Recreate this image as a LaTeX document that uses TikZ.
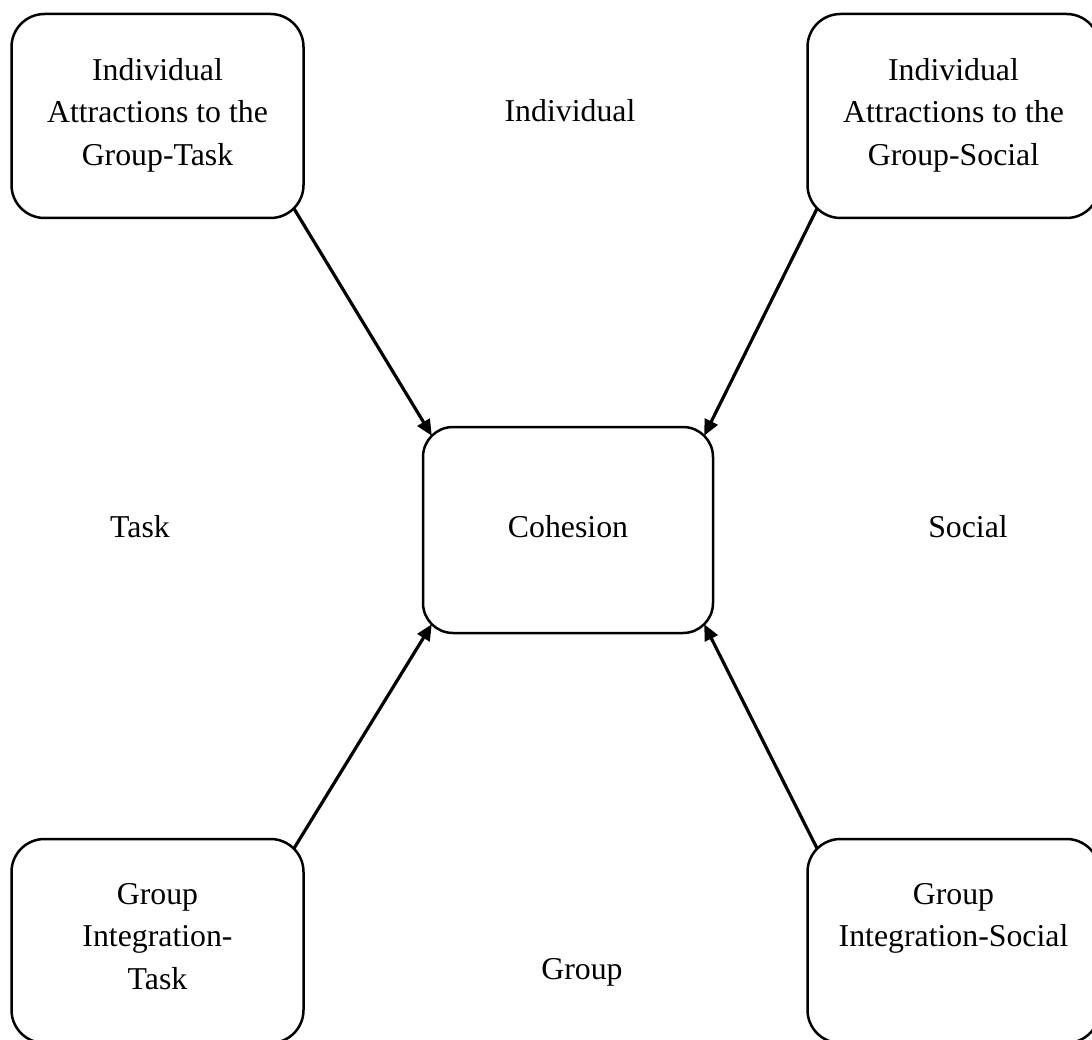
\documentclass[tikz,border=0pt]{standalone}
\usepackage{fontspec}
\setmainfont{Liberation Serif}
\usetikzlibrary{arrows.meta,calc}
\begin{document}
\begin{tikzpicture}[x=1pt,y=-1pt,
  box/.style={draw, line width=2.5pt, rounded corners=33pt, inner sep=0pt, outer sep=0pt,
              minimum width=292pt, minimum height=204pt},
  cbox/.style={draw, line width=2.5pt, rounded corners=30pt, inner sep=0pt, outer sep=0pt,
              minimum width=290pt, minimum height=206pt},
  lbl/.style={font=\fontsize{31.8}{42.5}\selectfont, inner sep=0pt, outer sep=0pt, align=center},
  arr/.style={line width=3.2pt, -{Triangle[length=16pt,width=14pt]}}]
\clip (0,0) rectangle (1092,1040);
\fill[white] (0,0) rectangle (1092,1040);
% boxes
\node[box] (tl) at (157.5,116) {};
\node[box] (tr) at (953.5,116) {};
\node[box] (bl) at (157.5,941) {};
\node[box] (br) at (953.5,941) {};
\node[cbox] (coh) at (568,530) {};
% box texts
\node[lbl, anchor=north] (tlt) at ($(tl.north)+(0,44)$) {Individual\\Attractions to the\\Group-Task};
\node[lbl, anchor=north] (trt) at ($(tr.north)+(0,44)$) {Individual\\Attractions to the\\Group-Social};
\node[lbl, anchor=north] (blt) at ($(bl.north)+(0,44)$) {Group\\Integration-\\Task};
\node[lbl, anchor=north] (brt) at ($(br.north)+(0,44)$) {Group\\Integration-Social};
\node[lbl, anchor=base] (coht) at (568,537) {Cohesion};
% free labels
\node[lbl, anchor=base] (lind) at (570,122) {Individual};
\node[lbl, anchor=base] (ltask) at (140,537) {Task};
\node[lbl, anchor=base] (lsoc) at (968,537) {Social};
\node[lbl, anchor=base] (lgrp) at (582,979) {Group};
% arrows
\draw[arr] ($(tl.south east)+(-9.7,-9.7)$) -- ($(coh.north west)+(8.8,8.8)$);
\draw[arr] ($(tr.south west)+(9.7,-9.7)$) -- ($(coh.north east)+(-8.8,8.8)$);
\draw[arr] ($(bl.north east)+(-9.7,9.7)$) -- ($(coh.south west)+(8.8,-8.8)$);
\draw[arr] ($(br.north west)+(9.7,9.7)$) -- ($(coh.south east)+(-8.8,-8.8)$);
\end{tikzpicture}
\end{document}
